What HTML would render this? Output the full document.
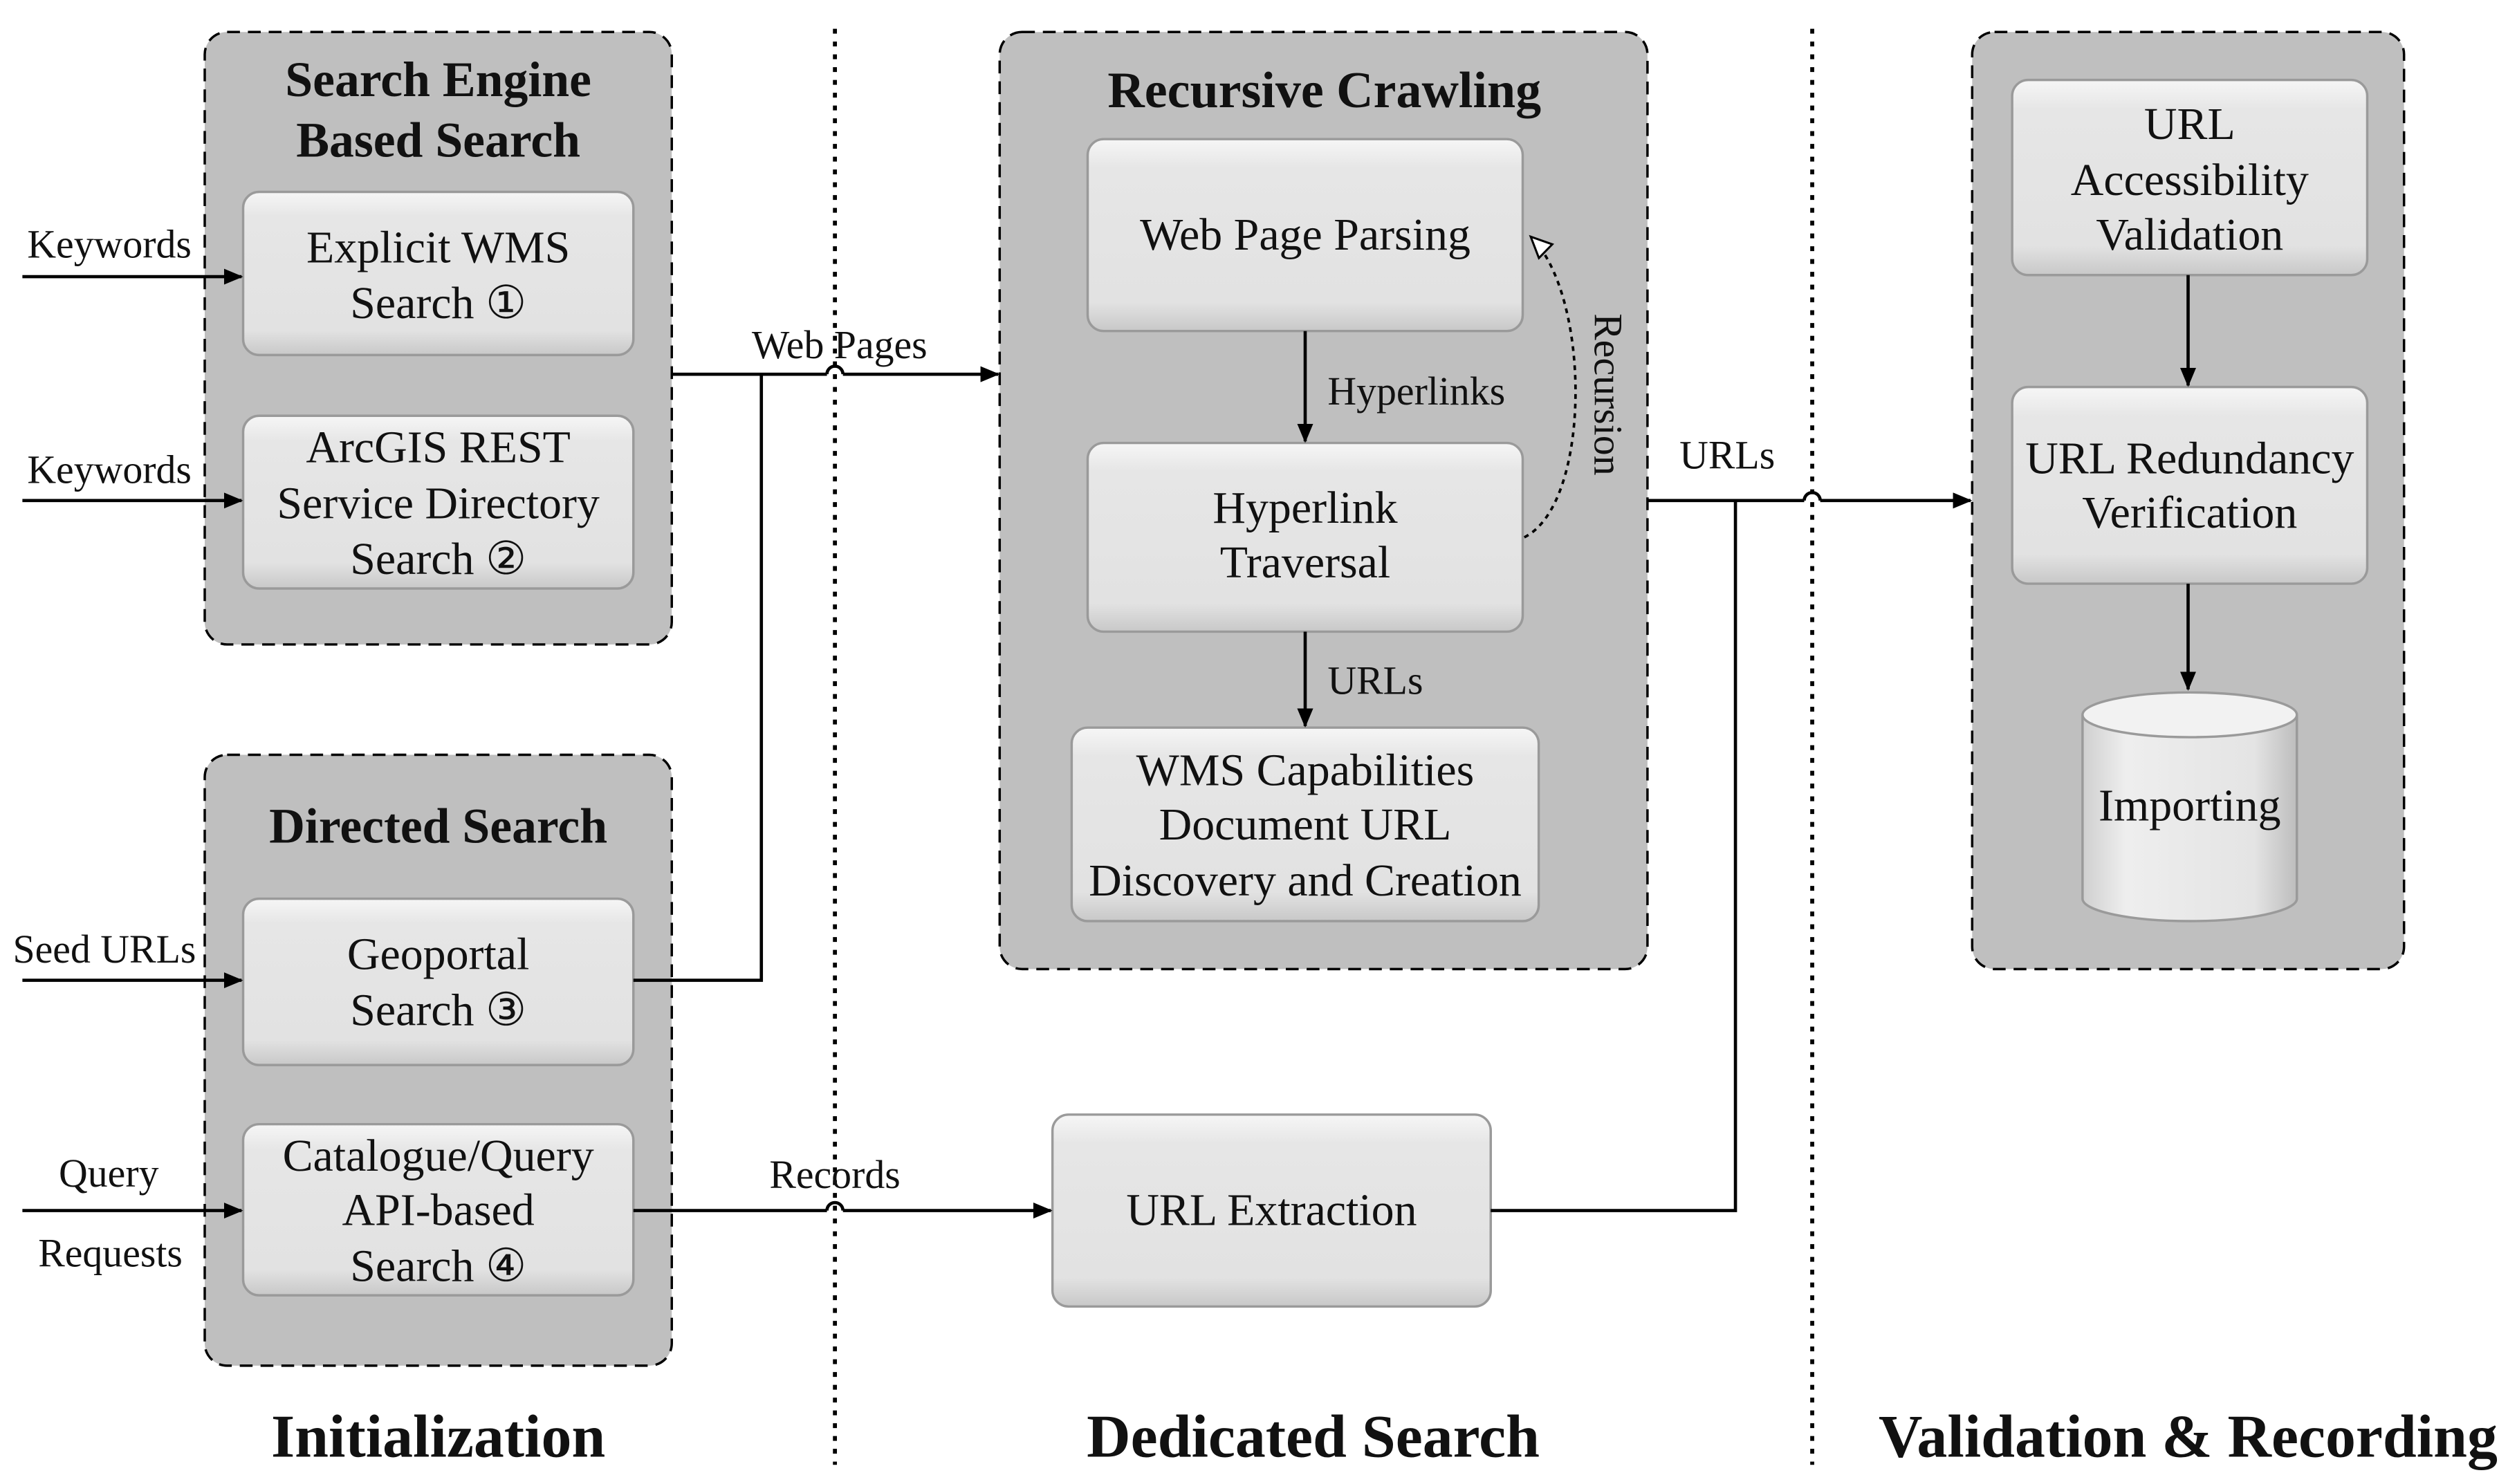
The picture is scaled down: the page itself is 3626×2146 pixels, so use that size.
<!DOCTYPE html>
<html><head><meta charset="utf-8">
<style>
html,body{margin:0;padding:0;background:#fff;}
svg{display:block;}
text{font-family:"Liberation Serif","DejaVu Serif",serif;fill:#111;}
.t{font-size:28.5px;text-anchor:middle;}
.h{font-size:31px;font-weight:bold;text-anchor:middle;}
.b{font-size:38px;font-weight:bold;text-anchor:middle;}
.l{font-size:25px;}
</style></head><body>
<svg width="3626" height="2146" viewBox="0 0 1568 928" xmlns="http://www.w3.org/2000/svg">
<defs>
<linearGradient id="bx" x1="0" y1="0" x2="0" y2="1">
<stop offset="0" stop-color="#f6f6f6"/><stop offset="0.15" stop-color="#e6e6e6"/><stop offset="0.85" stop-color="#e2e2e2"/><stop offset="1" stop-color="#c8c8c8"/></linearGradient>
<linearGradient id="cy" x1="0" y1="0" x2="1" y2="0">
<stop offset="0" stop-color="#cfcfcf"/><stop offset="0.2" stop-color="#eeeeee"/><stop offset="0.8" stop-color="#e4e4e4"/><stop offset="1" stop-color="#bdbdbd"/></linearGradient>
<marker id="ar" markerWidth="12" markerHeight="10" refX="11" refY="5" orient="auto" markerUnits="userSpaceOnUse"><path d="M0,0 L12,5 L0,10 z" fill="#000"/></marker>
<marker id="oa" markerWidth="16" markerHeight="14" refX="14" refY="7" orient="auto" markerUnits="userSpaceOnUse"><path d="M1,1 L14,7 L1,13 z" fill="#fff" stroke="#000" stroke-width="1.3"/></marker>
</defs>
<rect width="1568" height="928" fill="#fff"/>

<line x1="522" y1="18" x2="522" y2="916" stroke="#000" stroke-width="2.5" stroke-dasharray="3,5"/>
<line x1="1133" y1="18" x2="1133" y2="916" stroke="#000" stroke-width="2.5" stroke-dasharray="3,5"/>

<g fill="#bfbfbf" stroke="#000" stroke-width="1.5" stroke-dasharray="8,5">
<rect x="128" y="20" width="292" height="383" rx="14"/>
<rect x="128" y="472" width="292" height="382" rx="14"/>
<rect x="625" y="20" width="405" height="586" rx="14"/>
<rect x="1233" y="20" width="270" height="586" rx="14"/>
</g>

<g fill="url(#bx)" stroke="#9a9a9a" stroke-width="1.5">
<rect x="152" y="120" width="244" height="102" rx="10"/>
<rect x="152" y="260" width="244" height="108" rx="10"/>
<rect x="152" y="562" width="244" height="104" rx="10"/>
<rect x="152" y="703" width="244" height="107" rx="10"/>
<rect x="680" y="87" width="272" height="120" rx="10"/>
<rect x="680" y="277" width="272" height="118" rx="10"/>
<rect x="670" y="455" width="292" height="121" rx="10"/>
<rect x="1258" y="50" width="222" height="122" rx="10"/>
<rect x="1258" y="242" width="222" height="123" rx="10"/>
<rect x="658" y="697" width="274" height="120" rx="10"/>
</g>
<path d="M1302,447 L1302,562 A67,14 0 0 0 1436,562 L1436,447" fill="url(#cy)" stroke="#9a9a9a" stroke-width="1.5"/>
<ellipse cx="1369" cy="447" rx="67" ry="14" fill="#f2f2f2" stroke="#9a9a9a" stroke-width="1.5"/>

<text class="h" x="274" y="60">Search Engine</text>
<text class="h" x="274" y="98">Based Search</text>
<text class="h" x="274" y="527">Directed Search</text>
<text class="h" x="828" y="67" style="font-size:32px">Recursive Crawling</text>

<text class="t" x="274" y="164">Explicit WMS</text>
<text class="t" x="274" y="199">Search ①</text>
<text class="t" x="274" y="289">ArcGIS REST</text>
<text class="t" x="274" y="324">Service Directory</text>
<text class="t" x="274" y="359">Search ②</text>
<text class="t" x="274" y="606">Geoportal</text>
<text class="t" x="274" y="641">Search ③</text>
<text class="t" x="274" y="732">Catalogue/Query</text>
<text class="t" x="274" y="766">API-based</text>
<text class="t" x="274" y="801">Search ④</text>
<text class="t" x="816" y="156">Web Page Parsing</text>
<text class="t" x="816" y="327">Hyperlink</text>
<text class="t" x="816" y="361">Traversal</text>
<text class="t" x="816" y="491">WMS Capabilities</text>
<text class="t" x="816" y="525">Document URL</text>
<text class="t" x="816" y="560">Discovery and Creation</text>
<text class="t" x="1369" y="87">URL</text>
<text class="t" x="1369" y="122">Accessibility</text>
<text class="t" x="1369" y="156">Validation</text>
<text class="t" x="1369" y="296">URL Redundancy</text>
<text class="t" x="1369" y="330">Verification</text>
<text class="t" x="1369" y="513">Importing</text>
<text class="t" x="795" y="766">URL Extraction</text>

<text class="b" x="274" y="911">Initialization</text>
<text class="b" x="821" y="911">Dedicated Search</text>
<text class="b" x="1368" y="911">Validation &amp; Recording</text>

<g stroke="#000" stroke-width="2" fill="none">
<line x1="14" y1="173" x2="151" y2="173" marker-end="url(#ar)"/>
<line x1="14" y1="313" x2="151" y2="313" marker-end="url(#ar)"/>
<line x1="14" y1="613" x2="151" y2="613" marker-end="url(#ar)"/>
<line x1="14" y1="757" x2="151" y2="757" marker-end="url(#ar)"/>
<line x1="420" y1="234" x2="517" y2="234"/>
<path d="M517,234 A5,5 0 0 1 527,234"/>
<line x1="527" y1="234" x2="624" y2="234" marker-end="url(#ar)"/>
<polyline points="396,613 476,613 476,234"/>
<line x1="396" y1="757" x2="517" y2="757"/>
<path d="M517,757 A5,5 0 0 1 527,757"/>
<line x1="527" y1="757" x2="657" y2="757" marker-end="url(#ar)"/>
<polyline points="932,757 1085,757 1085,313"/>
<line x1="1030" y1="313" x2="1128" y2="313"/>
<path d="M1128,313 A5,5 0 0 1 1138,313"/>
<line x1="1138" y1="313" x2="1232" y2="313" marker-end="url(#ar)"/>
<line x1="816" y1="207" x2="816" y2="276" marker-end="url(#ar)"/>
<line x1="816" y1="395" x2="816" y2="454" marker-end="url(#ar)"/>
<line x1="1368" y1="172" x2="1368" y2="241" marker-end="url(#ar)"/>
<line x1="1368" y1="365" x2="1368" y2="431" marker-end="url(#ar)"/>
<path d="M953,336 C995,315 995,185 957,148" stroke-dasharray="3,3" stroke-width="1.6" marker-end="url(#oa)"/>
</g>

<text class="l" x="17" y="161">Keywords</text>
<text class="l" x="17" y="302">Keywords</text>
<text class="l" x="8" y="602">Seed URLs</text>
<text class="l" x="68" y="742" text-anchor="middle">Query</text>
<text class="l" x="69" y="792" text-anchor="middle">Requests</text>
<text class="l" x="470" y="224">Web Pages</text>
<text class="l" x="481" y="743">Records</text>
<text class="l" x="1050" y="293">URLs</text>
<text class="l" x="830" y="253">Hyperlinks</text>
<text class="l" x="830" y="434">URLs</text>
<text class="l" x="0" y="0" transform="translate(997,196) rotate(90)">Recursion</text>
</svg>
</body></html>
